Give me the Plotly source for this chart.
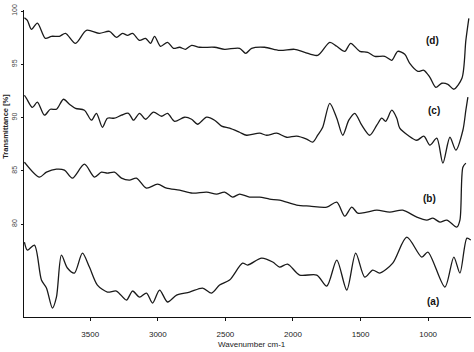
import plotly.graph_objects as go

# Curve (d)
wn_d = [3987, 3965, 3935, 3891, 3832, 3787, 3728, 3683, 3609, 3528, 3432, 3358, 3306, 3261, 3224, 3187,
        3135, 3091, 3054, 3024, 2980, 2928, 2884, 2839, 2795, 2750, 2691, 2580, 2506, 2395, 2350, 2306,
        2210, 2099, 1988, 1913, 1817, 1728, 1676, 1617, 1573, 1506, 1447, 1395, 1321, 1269, 1225, 1173,
        1136, 1076, 1032, 987, 943, 899, 854, 810, 750, 721, 699]
t_d = [99.38, 99.13, 98.28, 98.87, 97.44, 97.63, 97.63, 97.91, 96.97, 98.19, 97.91, 98.10, 97.53, 97.91, 97.72, 97.91,
       97.25, 97.44, 96.97, 97.63, 96.69, 97.06, 96.50, 96.60, 96.41, 96.78, 96.60, 96.60, 96.41, 96.50, 96.03, 96.50,
       96.60, 96.31, 96.41, 96.13, 95.84, 97.06, 96.69, 96.22, 96.97, 96.22, 96.13, 95.75, 95.75, 95.38, 96.22, 95.94,
       95.09, 94.34, 94.44, 93.78, 92.84, 93.22, 93.12, 92.66, 93.69, 97.25, 99.32]

# Curve (c)
wn_c = [3987, 3972, 3928, 3891, 3839, 3795, 3750, 3698, 3654, 3609, 3543, 3491, 3454, 3410, 3373, 3321,
        3269, 3217, 3180, 3135, 3091, 3032, 2972, 2928, 2876, 2802, 2750, 2706, 2639, 2580, 2528, 2469,
        2395, 2343, 2247, 2195, 2121, 2047, 1973, 1899, 1854, 1817, 1780, 1728, 1676, 1632, 1587, 1543,
        1491, 1432, 1380, 1343, 1314, 1269, 1232, 1210, 1150, 1084, 1032, 987, 936, 891, 839, 795, 743,
        721, 706]
t_c = [92.09, 91.81, 90.95, 91.44, 90.22, 90.78, 90.78, 91.72, 91.25, 90.87, 90.69, 89.75, 90.40, 89.09, 89.94, 89.94,
       90.22, 90.40, 89.75, 90.40, 89.84, 90.50, 90.12, 90.40, 89.65, 90.03, 89.84, 89.37, 90.03, 89.75, 89.19, 89.00,
       88.62, 88.34, 88.53, 88.34, 88.53, 88.15, 88.25, 87.97, 87.69, 88.34, 89.09, 91.34, 89.94, 88.34, 89.75, 90.40,
       89.28, 88.34, 89.28, 89.94, 89.65, 90.69, 89.94, 89.00, 88.34, 87.87, 88.25, 87.41, 88.06, 85.72, 88.15, 86.94, 88.81,
       90.69, 91.91]

# Curve (b)
wn_b = [3987, 3876, 3824, 3750, 3691, 3632, 3543, 3469, 3417, 3373, 3321, 3269, 3210, 3158, 3084, 3002,
        2935, 2839, 2743, 2639, 2565, 2506, 2447, 2395, 2321, 2247, 2173, 2099, 1973, 1876, 1750, 1676,
        1617, 1565, 1521, 1454, 1380, 1284, 1188, 1084, 1010, 965, 913, 862, 788, 765, 743, 721]
t_b = [85.81, 84.41, 84.87, 85.15, 85.06, 84.31, 85.62, 84.41, 84.87, 84.78, 84.87, 84.31, 84.12, 84.31, 83.37, 83.74,
       83.37, 83.18, 82.90, 83.00, 82.81, 83.00, 82.53, 82.81, 82.53, 82.53, 82.34, 82.24, 81.78, 81.68, 81.59, 82.06,
       80.74, 81.59, 81.02, 81.12, 81.30, 81.12, 81.30, 80.65, 80.37, 80.55, 80.18, 80.37, 79.71, 80.37, 85.34, 85.72]

# Curve (a)
wn_a = [3987, 3965, 3913, 3861, 3824, 3780, 3750, 3713, 3669, 3617, 3558, 3506, 3447, 3373, 3306, 3232,
        3187, 3135, 3084, 3039, 2987, 2928, 2861, 2765, 2669, 2602, 2543, 2469, 2373, 2336, 2232, 2150,
        2099, 2040, 1951, 1824, 1750, 1676, 1602, 1536, 1469, 1410, 1358, 1262, 1158, 1047, 1002, 876,
        810, 765, 713, 684]
t_a = [78.30, 77.55, 78.02, 74.74, 73.99, 72.11, 73.14, 77.08, 75.87, 75.40, 77.27, 75.96, 74.27, 73.61, 73.71, 72.86,
       73.71, 73.14, 73.52, 72.58, 73.80, 72.68, 73.33, 73.61, 73.99, 73.52, 74.27, 74.74, 76.33, 76.15, 76.80, 76.43,
       75.96, 76.24, 75.21, 75.21, 74.18, 76.62, 73.80, 77.27, 75.02, 75.68, 75.40, 76.33, 78.77, 76.90, 77.37, 74.08,
       76.90, 75.40, 78.68, 78.49]

labels = ["(d)", "(c)", "(b)", "(a)"]
label_x = [965, 958, 987, 965]
label_y = [97.25, 90.69, 82.43, 72.77]

x_ticks = [3500, 3000, 2500, 2000, 1500, 1000]
y_ticks = [80, 85, 90, 95, 100]

FONT = "Liberation Sans, Arial"

fig = go.Figure()
for wn, t in [(wn_d, t_d), (wn_c, t_c), (wn_b, t_b), (wn_a, t_a)]:
    fig.add_trace(go.Scatter(x=wn, y=t, mode="lines",
                             line=dict(color="#1a1a1a", width=1.3, shape="spline", smoothing=0.8),
                             showlegend=False, hoverinfo="skip"))

for lab, lx, ly in zip(labels, label_x, label_y):
    fig.add_annotation(x=lx, y=ly, text="<b>" + lab + "</b>", showarrow=False,
                       font=dict(family=FONT, size=10, color="#111"))

# axis titles
fig.add_annotation(xref="paper", yref="paper", x=-0.043, y=0.622, xanchor="center", textangle=-90,
                   text="<b>Transmittance [%]</b>", showarrow=False,
                   font=dict(family=FONT, size=7.5, color="#222"))
fig.add_annotation(xref="x", yref="paper", x=2306, y=0, yshift=-27, yanchor="middle",
                   text="Wavenumber cm-1", showarrow=False,
                   font=dict(family=FONT, size=8, color="#222"))

fig.update_layout(
    width=474, height=352,
    margin=dict(l=24, r=3, t=10, b=35),
    paper_bgcolor="white", plot_bgcolor="white",
    font=dict(family=FONT, color="#222"),
    xaxis=dict(range=[3990, 683], tickvals=x_ticks, ticktext=[str(v) for v in x_ticks],
               showgrid=False, zeroline=False, showline=True, linecolor="#111", linewidth=1.2,
               ticks="outside", ticklen=3, tickcolor="#111", automargin=False,
               ticklabelstandoff=6,
               tickfont=dict(size=8, color="#222")),
    yaxis=dict(range=[71.27, 100.1], tickvals=y_ticks, ticktext=[str(v) for v in y_ticks],
               showgrid=False, zeroline=False, showline=True, linecolor="#111", linewidth=1.2,
               ticks="outside", ticklen=2, tickcolor="#111", tickangle=-90, automargin=False,
               ticklabelstandoff=1,
               tickfont=dict(size=7, color="#444")),
)

fig.write_html("out.html", config={"displayModeBar": False},
               post_script="document.body.style.margin='0';")
